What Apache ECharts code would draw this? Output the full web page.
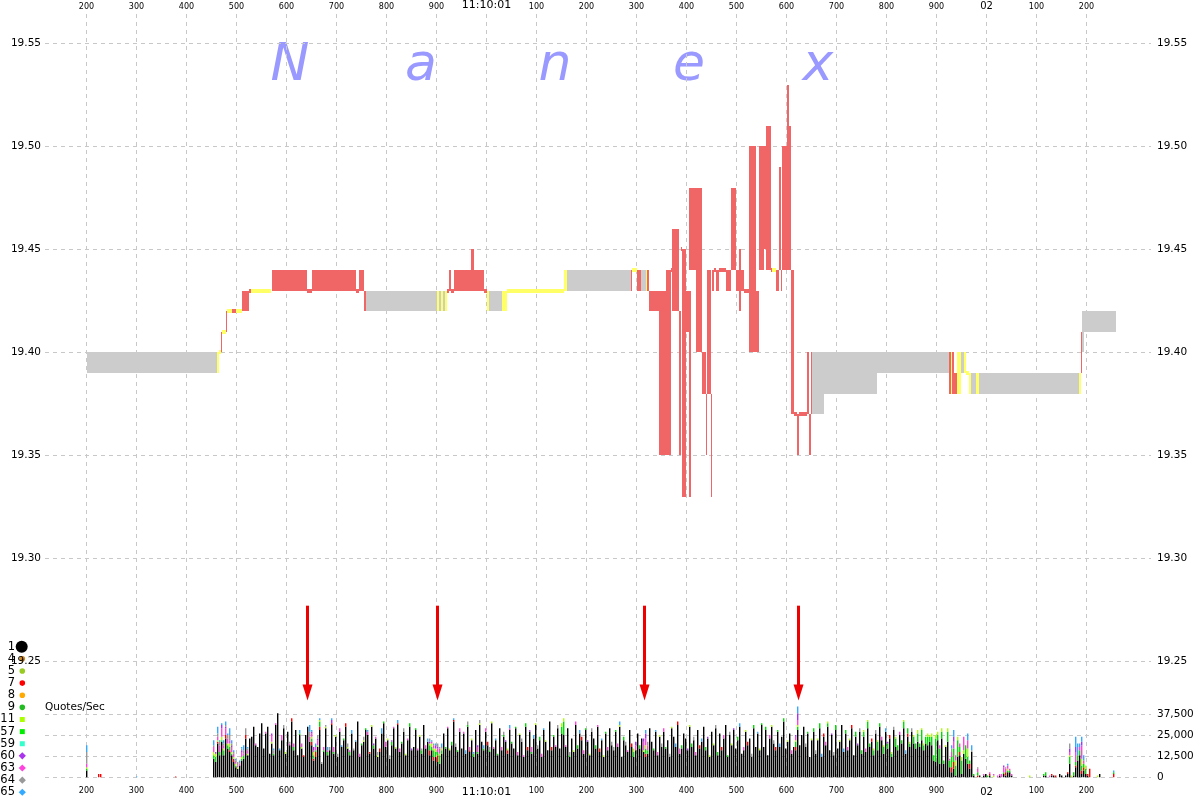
<!DOCTYPE html>
<html><head><meta charset="utf-8">
<script src="https://cdn.jsdelivr.net/npm/echarts/dist/echarts.min.js"></script>
<style>html,body{margin:0;padding:0;background:#fff}#c{width:1200px;height:800px}</style>
</head><body><div id="c"></div>
<script>
// ---- time axis (ms after 11:10:00) ----
const timeMin = 200, timeMax = 2200, timeStep = 100;
const dataXMin = 117, dataXMax = 2329;
const tickText = {1000: '11:10:01', 2000: '02'};

// ---- price axis ----
const priceMin = 19.25, priceMax = 19.55, priceStep = 0.05;

// ---- NBBO spread segments [tStart, tEnd, low, high] ----
const graySpread = [
  [200,461,19.39,19.40],[758,920,19.42,19.43],[1005,1031,19.42,19.43],[1161,1289,19.43,19.44],
  [1309,1319,19.43,19.44],[1651,1675,19.37,19.40],[1675,1780,19.38,19.40],[1780,1926,19.39,19.40],
  [1948,1954,19.39,19.40],[1968,1978,19.38,19.39],[1984,2184,19.38,19.39],[2190,2194,19.40,19.41],
  [2190,2258,19.41,19.42]
];
const redSpread = [
  [469,471,19.40,19.41],[478,480,19.41,19.42],[490,499,19.42,19.42],[510,525,19.42,19.43],
  [525,529,19.43,19.43],[571,641,19.43,19.44],[641,651,19.43,19.43],[651,738,19.43,19.44],
  [738,745,19.43,19.43],[745,754,19.43,19.44],[754,758,19.42,19.43],[920,925,19.43,19.43],
  [925,929,19.43,19.44],[929,935,19.43,19.43],[935,995,19.43,19.44],[969,975,19.44,19.45],
  [995,1000,19.43,19.43],[1289,1291,19.43,19.44],[1300,1309,19.43,19.44],[1321,1325,19.43,19.44],
  [1325,1345,19.42,19.43],[1345,1359,19.35,19.43],[1359,1369,19.35,19.44],[1369,1371,19.44,19.44],
  [1371,1385,19.42,19.46],[1385,1389,19.35,19.42],[1389,1391,19.45,19.45],[1391,1399,19.33,19.45],
  [1399,1409,19.41,19.43],[1405,1409,19.33,19.41],[1405,1431,19.44,19.48],[1419,1431,19.40,19.44],
  [1431,1439,19.38,19.40],[1439,1441,19.35,19.38],[1441,1449,19.38,19.44],[1449,1451,19.33,19.38],
  [1451,1455,19.43,19.44],[1455,1459,19.44,19.44],[1459,1465,19.43,19.44],[1465,1479,19.44,19.44],
  [1479,1489,19.43,19.44],[1489,1499,19.44,19.48],[1499,1505,19.43,19.44],[1505,1509,19.42,19.45],
  [1509,1515,19.43,19.44],[1515,1525,19.43,19.43],[1525,1539,19.40,19.50],[1539,1545,19.40,19.43],
  [1545,1555,19.44,19.50],[1555,1561,19.45,19.50],[1559,1569,19.44,19.51],[1569,1571,19.44,19.44],
  [1579,1585,19.43,19.44],[1585,1589,19.44,19.49],[1589,1591,19.43,19.44],[1591,1601,19.44,19.50],
  [1601,1605,19.44,19.53],[1601,1609,19.44,19.51],[1609,1615,19.37,19.44],[1615,1621,19.37,19.37],
  [1621,1625,19.35,19.37],[1625,1641,19.37,19.37],[1641,1645,19.37,19.40],[1645,1649,19.35,19.37],
  [1649,1651,19.37,19.40],[1925,1928,19.38,19.40],[1930,1934,19.38,19.40],[1934,1940,19.38,19.39],
  [2188,2190,19.39,19.41]
];
const yellowSpread = [
  [461,465,19.39,19.40],[465,469,19.40,19.40],[471,478,19.41,19.41],[480,490,19.42,19.42],
  [499,510,19.42,19.42],[529,569,19.43,19.43],[900,904,19.42,19.43],[908,912,19.42,19.43],
  [917,920,19.42,19.43],[1000,1005,19.42,19.43],[1031,1041,19.42,19.43],[1041,1155,19.43,19.43],
  [1155,1161,19.43,19.44],[1291,1300,19.44,19.44],[1319,1321,19.43,19.44],[1571,1579,19.44,19.44],
  [1928,1930,19.38,19.40],[1940,1948,19.38,19.40],[1954,1958,19.39,19.40],[1958,1964,19.39,19.39],
  [1964,1968,19.38,19.39],[1978,1984,19.38,19.39],[2184,2188,19.38,19.39]
];

// ---- Quotes/Sec, thousands per 4 ms bin starting at volStart ----
const volStart = 454, volStep = 4;
const volMax = 37500, volTick = 12500;
const q1 = [
11,9,20,13,21,13,23,17,15,13,9,6,5,7,10,11,23,13,23,24,30,19,18,26,32,
17,26,30,14,20,13,31,38,16,22,29,14,27,19,33,16,28,13,25,17,12,25,30,21,19,
10,12,18,28,8,15,29,13,16,31,14,24,12,27,18,22,30,17,13,26,16,21,33,12,19,
21,28,25,14,30,17,23,12,15,26,32,18,22,11,19,29,17,31,15,20,27,13,22,30,16,
18,28,16,24,14,31,17,21,13,16,10,12,9,8,14,26,17,29,16,19,33,18,15,27,17,
26,14,30,15,22,12,28,14,31,21,16,27,19,15,32,17,22,13,29,16,24,21,14,28,20,
17,29,13,25,21,12,30,16,27,14,23,31,17,22,12,28,21,16,33,16,24,18,29,17,26,
25,18,29,12,23,15,31,17,26,22,14,28,21,13,27,23,17,30,15,22,12,26,16,29,19,
16,27,18,30,12,22,19,15,28,18,12,16,26,17,23,15,12,14,29,21,16,27,13,24,18,
27,17,22,12,29,24,18,31,14,17,26,23,16,30,18,22,13,28,17,21,30,16,23,12,27,
19,29,13,26,16,23,31,12,25,19,28,17,22,30,14,16,27,19,23,12,29,18,26,16,31,
18,28,13,23,30,20,16,27,18,24,33,17,21,26,14,18,16,28,19,25,30,18,26,12,22,
27,14,22,29,12,24,19,30,16,25,13,28,17,21,31,15,26,16,22,29,13,24,19,27,14,
24,15,29,18,21,13,26,16,30,22,14,27,17,23,12,28,18,16,25,20,29,14,24,18,27,
20,17,21,18,22,16,20,19,21,19,10,9,22,8,23,8,18,21,6,3,5,1,12,13,2,
14,11,8,5,15,1,0,0,1,0,1,2,0,1,0,0,0,0,1,0,2,1,3,3,1,
0,0,0,0,0,0,0,0,0,0,0,0,0,0,0,1,1,0,0,1,1,0,0,2,1,
0,1,2,8,0,1,6,10,13,2,4,2,1,0,0,0,0,0,2,0,0,0,0,0,0];
const q7 = [
0,0,1,0,0,0,2,0,1,0,2,0,0,0,0,0,2,0,0,0,0,0,0,0,0,
0,0,0,0,0,0,0,0,0,0,0,0,0,0,2,0,0,0,0,0,1,0,0,0,2,
1,3,0,2,0,0,0,0,0,1,0,0,0,0,0,0,2,0,0,0,0,0,0,0,0,
0,0,0,1,0,0,0,0,2,0,0,0,0,0,0,0,0,1,0,0,0,0,0,0,0,
0,0,0,0,0,0,0,0,3,0,2,0,4,0,0,0,0,0,0,0,1,0,0,0,0,
0,0,0,1,0,0,0,0,0,0,0,0,2,0,0,0,0,0,0,0,0,0,2,0,0,
0,0,0,0,0,0,0,2,0,0,0,0,0,0,0,0,0,0,0,2,0,0,0,0,0,
0,0,0,0,0,0,0,0,0,2,0,0,0,0,0,0,0,0,2,0,0,0,0,0,0,
0,0,0,0,0,0,0,0,0,2,0,0,0,0,0,0,2,0,0,0,0,0,0,0,0,
0,0,0,0,0,0,0,2,0,0,0,0,0,0,0,0,0,0,2,0,0,0,0,0,0,
0,0,0,0,2,0,0,0,0,0,0,0,0,0,0,0,0,2,0,0,0,0,0,0,0,
0,0,0,0,0,0,2,0,0,0,0,0,0,0,0,0,2,0,0,0,0,0,0,0,0,
0,0,0,0,0,2,0,0,0,0,0,0,0,0,0,0,0,0,0,2,0,0,0,0,0,
0,0,0,0,2,0,0,0,0,0,0,0,0,2,0,0,0,0,0,0,0,0,2,0,0,
0,0,0,0,0,0,0,0,0,0,0,0,0,0,0,0,0,0,0,3,4,0,0,2,0,
0,0,0,3,0,0,0,1,0,0,0,0,0,1,0,0,0,0,0,0,0,2,0,0,0,
0,0,0,0,0,0,0,0,0,0,0,0,0,0,0,0,0,0,0,1,0,1,0,0,0,
0,0,1,0,0,0,1,0,0,2,2,0,1,5,0,0,0,0,0,0,0,0,0,0,0];
const q57 = [
2,3,0,2,1,3,0,2,2,1,0,1,0,0,1,2,0,0,0,0,0,0,0,0,0,
0,0,0,0,0,1,0,0,0,0,0,0,0,0,0,2,0,0,1,0,0,0,0,0,2,
2,1,0,3,0,1,0,2,0,0,1,0,0,0,0,1,0,0,2,0,0,0,0,0,1,
0,1,0,0,0,2,0,0,0,0,1,0,0,0,2,0,0,0,0,1,0,0,0,2,0,
0,1,0,0,2,0,0,0,3,2,4,3,2,5,2,0,1,0,0,2,0,0,1,0,0,
0,0,1,0,0,2,0,1,0,0,1,0,0,1,0,0,0,1,0,0,1,0,0,0,1,
0,1,0,0,0,0,2,0,0,1,0,0,0,2,0,0,0,0,0,0,1,0,0,0,4,
8,0,0,1,0,0,0,2,0,0,0,1,0,0,0,0,2,0,0,0,0,1,0,0,0,
0,1,0,0,0,2,0,0,0,0,3,0,0,2,0,0,3,2,0,0,1,0,0,0,0,
0,1,0,0,0,0,0,0,0,2,0,0,0,0,2,0,0,0,0,0,0,2,0,0,0,
0,0,2,0,0,0,0,1,0,0,0,0,2,0,0,0,0,0,0,0,2,0,0,0,1,
0,2,0,0,0,0,0,1,0,0,2,0,0,0,0,0,3,2,0,0,0,0,1,0,0,
2,0,0,3,0,0,0,2,0,0,0,3,0,0,0,0,2,0,0,0,0,3,0,0,2,
3,0,4,2,0,3,0,5,2,0,4,0,3,0,2,0,5,3,0,2,4,0,3,2,0,
4,3,5,2,6,3,4,5,3,5,3,14,3,9,4,2,0,6,4,6,8,6,10,3,8,
0,8,4,2,0,1,0,2,0,0,0,0,1,0,0,0,0,0,0,0,1,0,1,1,0,
0,0,0,0,0,0,0,0,0,0,0,0,0,0,0,1,2,0,0,0,0,0,0,0,0,
0,0,0,4,0,2,2,3,3,3,2,3,0,0,0,0,0,0,0,0,0,0,0,0,0];
const q11 = [
2,2,1,0,2,1,0,1,2,1,1,1,1,0,1,0,0,1,0,0,0,0,0,0,0,
0,0,0,0,1,0,0,0,0,0,0,1,0,0,0,0,0,0,0,1,0,0,0,0,1,
2,0,1,1,0,0,1,0,0,0,0,1,0,0,0,0,0,1,0,0,0,0,0,0,0,
1,0,0,0,1,0,0,1,0,0,0,0,1,0,0,0,1,0,0,0,0,1,0,0,0,
0,0,0,1,0,0,0,0,1,2,1,2,0,1,1,0,0,0,1,0,0,0,0,0,0,
0,0,0,0,1,0,0,0,1,0,0,0,0,0,1,0,0,0,0,0,0,0,1,0,0,
0,0,0,1,0,0,0,0,0,0,0,1,0,0,0,0,1,0,0,0,0,0,0,0,2,
2,0,0,0,0,1,0,0,0,0,0,0,0,1,0,0,0,0,0,0,1,0,0,0,0,
0,0,0,1,0,0,0,0,0,0,2,0,0,0,0,1,2,0,0,0,0,0,0,1,0,
0,0,0,0,1,0,0,0,0,0,0,0,0,1,0,0,0,0,0,0,0,0,0,1,0,
1,0,0,0,0,0,0,0,0,1,0,0,0,0,0,0,1,0,0,0,0,0,0,1,0,
0,0,0,0,1,0,0,0,0,0,0,0,1,0,0,0,1,1,0,0,0,0,0,0,1,
0,0,1,0,0,0,0,1,0,0,0,0,0,1,0,0,0,0,1,0,0,0,0,0,0,
1,0,1,0,0,1,0,1,0,0,1,0,0,0,1,0,1,0,0,0,1,0,0,1,0,
1,0,2,0,1,1,0,2,1,2,0,2,2,0,2,0,1,2,0,0,0,3,2,0,2,
2,0,5,0,0,0,0,0,0,0,0,0,0,0,0,1,0,0,0,0,0,0,1,0,0,
0,0,0,0,0,0,0,0,1,0,0,0,0,0,0,0,0,0,0,0,0,0,0,0,0,
0,0,0,1,1,0,0,0,0,4,0,2,0,0,0,0,0,1,0,0,0,0,0,0,0];
const q63 = [
3,0,2,4,5,2,4,3,2,3,2,1,1,1,3,1,0,2,0,0,0,1,0,0,0,
0,1,0,0,4,0,1,0,0,3,0,0,0,1,0,2,0,0,0,2,0,0,0,3,2,
1,2,3,0,0,2,0,1,0,0,3,0,0,2,0,0,0,0,1,0,0,0,0,2,0,
0,0,2,0,0,0,1,0,0,0,0,3,0,0,0,1,0,0,2,0,0,0,1,0,0,
0,0,1,0,0,0,2,0,0,1,2,0,2,3,0,0,0,1,0,0,0,0,0,2,0,
1,0,0,2,0,0,0,3,0,0,0,2,0,0,0,1,0,0,0,2,0,0,0,1,0,
0,0,2,0,0,1,0,0,0,3,0,0,0,0,2,0,0,0,0,0,0,1,0,0,0,
0,1,0,0,0,0,2,0,0,0,2,0,0,0,0,0,0,1,0,0,0,0,2,0,0,
0,0,2,0,0,0,0,1,0,0,0,3,0,0,0,5,4,3,0,0,0,0,2,0,0,
2,0,0,0,0,0,0,0,3,0,0,0,0,0,0,0,2,0,0,0,0,0,0,0,0,
0,0,0,0,0,2,0,0,0,0,0,0,0,0,0,2,0,0,0,0,0,0,0,0,0,
0,0,0,2,0,0,0,0,0,0,0,0,0,0,2,0,2,3,0,0,0,0,0,0,0,
0,0,0,0,0,0,2,0,0,0,0,0,0,0,0,0,0,2,0,0,0,0,0,0,0,
0,2,0,0,0,0,0,0,0,2,0,0,0,0,0,0,0,0,2,0,0,0,0,0,0,
0,0,0,0,0,0,0,0,0,0,0,0,0,2,0,0,0,0,1,3,4,3,0,2,0,
8,0,5,0,0,0,0,2,0,0,1,0,0,1,0,1,0,1,1,2,3,2,2,1,1,
0,0,0,0,0,0,0,0,0,0,0,0,0,0,0,0,0,0,1,0,0,0,0,0,0,
0,0,0,2,0,0,6,0,2,8,2,0,0,0,0,0,0,0,0,0,0,0,0,0,0];
const q60 = [
0,1,0,0,2,0,1,0,0,1,0,0,0,0,1,0,0,0,0,0,0,0,0,0,0,
0,0,0,0,1,0,0,0,0,0,0,0,0,0,0,0,0,0,0,0,0,0,0,0,1,
2,0,1,0,0,0,0,0,0,2,0,0,0,0,0,0,0,0,0,0,0,0,0,0,0,
0,0,0,0,0,1,0,0,0,0,0,0,0,0,1,0,0,0,0,0,0,0,0,0,1,
0,0,0,0,0,0,0,0,1,0,0,2,1,0,0,0,0,0,0,0,0,0,0,0,0,
0,0,0,0,0,0,0,1,0,0,0,0,0,0,0,0,0,0,0,0,0,1,0,0,0,
0,0,0,0,0,0,0,0,1,0,0,0,0,0,0,0,0,0,0,0,0,0,0,0,0,
0,0,0,0,0,0,0,0,0,0,0,0,1,0,0,0,0,0,0,0,0,0,0,0,0,
0,0,0,0,0,0,0,0,0,0,0,2,0,0,0,2,3,0,0,0,0,0,0,0,0,
0,0,0,0,0,0,0,0,0,0,0,0,1,0,0,0,0,0,0,0,0,0,1,0,0,
0,0,0,0,0,0,0,0,0,0,1,0,0,0,0,0,0,0,0,0,0,0,0,0,0,
0,0,0,0,0,0,0,0,0,0,0,0,0,0,0,0,1,4,0,0,0,0,0,0,0,
0,0,0,0,0,0,0,0,0,1,0,0,0,0,0,0,0,0,0,0,0,0,1,0,0,
0,0,0,0,0,0,0,0,0,0,0,0,1,0,0,0,0,0,0,0,0,0,0,0,0,
0,0,0,0,0,0,0,0,0,0,0,0,0,0,0,0,0,0,0,0,3,0,0,0,0,
0,0,0,0,0,0,0,0,0,0,0,0,0,0,0,0,0,0,0,0,1,0,0,0,0,
0,0,0,0,0,0,0,0,0,0,0,0,0,0,0,0,0,0,0,0,0,0,0,0,0,
0,0,0,2,0,0,3,0,0,2,0,0,0,0,0,0,0,0,0,0,0,0,0,0,0];
const q64 = [
1,0,2,2,0,1,1,2,3,1,1,1,2,1,1,2,4,1,0,0,0,0,0,0,0,
0,0,0,0,0,2,0,0,0,0,2,0,0,1,0,0,0,0,0,0,0,0,0,3,0,
0,0,2,0,1,0,1,0,2,0,0,0,2,0,0,0,0,2,0,0,1,0,0,0,0,
2,0,0,0,0,0,0,2,0,0,0,0,0,2,0,0,0,0,0,0,2,0,0,0,0,
0,0,0,0,1,0,0,0,2,0,1,0,2,1,1,0,0,0,0,0,0,2,0,0,0,
0,0,2,0,0,0,0,0,2,0,0,0,0,2,0,0,0,0,0,0,2,0,0,0,0,
0,0,0,0,2,0,0,0,0,0,0,0,2,0,0,0,0,0,0,0,0,0,2,0,0,
0,0,0,2,0,0,0,0,0,0,0,0,0,0,2,0,0,0,0,0,0,0,0,0,2,
2,0,0,0,0,0,2,0,0,0,0,0,0,0,0,0,0,2,0,0,0,0,0,0,2,
0,0,0,2,0,0,0,0,0,0,0,0,0,0,0,2,0,0,0,0,0,0,0,0,0,
0,2,0,0,0,0,0,0,2,0,0,0,0,0,0,0,0,0,0,2,0,0,0,0,0,
0,0,0,0,0,2,0,0,0,0,0,0,0,0,0,0,0,0,0,0,0,2,0,0,0,
0,2,0,0,0,0,0,0,0,0,2,0,0,0,0,0,0,0,0,0,0,0,0,2,0,
0,0,0,0,0,0,2,0,0,0,0,0,0,0,0,2,0,0,0,0,0,0,0,0,2,
0,0,0,0,0,0,0,0,0,0,0,0,0,0,0,0,0,0,0,2,0,0,0,0,0,
0,0,0,0,1,0,0,1,0,0,0,0,0,0,0,0,0,0,0,0,0,1,0,0,0,
0,0,0,0,0,0,0,0,0,0,0,0,0,0,0,0,0,0,0,0,0,0,0,0,0,
0,0,0,3,0,0,0,0,0,0,0,0,0,0,0,0,0,0,0,0,0,0,0,0,0];
const q65 = [
3,0,4,1,1,2,2,1,4,2,1,1,0,1,1,3,0,1,0,0,0,0,0,0,0,
0,0,0,0,0,1,0,0,1,0,0,0,0,0,0,0,0,0,2,0,0,0,0,4,1,
0,2,0,1,0,0,0,2,0,1,0,0,0,0,1,0,0,0,0,2,0,1,0,0,0,
0,0,1,0,0,0,0,0,0,3,0,0,0,0,0,0,0,2,0,0,0,0,0,0,0,
0,0,0,0,0,0,0,2,0,1,0,1,0,0,2,0,0,0,0,0,1,0,0,0,0,
0,2,0,0,0,1,0,0,0,0,2,0,0,0,0,0,1,0,0,0,0,0,0,2,0,
0,0,0,0,0,0,0,0,0,0,2,0,0,0,0,1,0,0,0,0,0,0,0,0,0,
0,0,0,0,0,0,0,0,2,0,0,0,0,0,0,0,0,0,0,1,0,0,0,0,0,
0,0,0,2,0,0,0,0,0,0,0,0,0,0,0,0,2,0,0,0,0,1,0,0,0,
0,0,0,0,0,0,2,0,0,0,0,0,0,0,0,0,0,0,0,2,0,0,0,0,0,
0,0,0,0,0,0,0,0,0,0,0,0,0,2,0,0,0,0,0,0,0,0,1,0,0,
0,0,0,0,0,0,0,0,2,0,0,0,0,0,0,0,0,4,0,0,0,0,0,0,0,
0,0,0,0,2,0,0,0,0,0,0,0,0,0,0,2,0,0,0,0,0,0,0,0,0,
0,0,0,0,0,0,0,0,0,0,0,2,0,0,0,0,0,0,0,0,0,2,0,0,0,
0,0,0,0,0,0,0,0,0,0,0,0,0,0,0,0,0,0,0,2,4,0,0,0,0,
0,0,4,0,3,0,0,0,0,0,0,0,0,0,0,0,0,0,0,0,0,0,1,0,0,
0,0,0,0,0,0,0,0,0,0,0,0,0,0,0,0,0,0,0,0,0,0,0,0,0,
0,0,0,0,0,0,6,7,2,3,3,0,0,0,0,0,0,0,0,0,0,0,0,0,0];
// isolated bars outside the bin run
const extraT   = [200, 224, 228, 300, 378, 2254];
const extra1   = [4, 0, 0, 0, 0, 0];
const extra7   = [0, 2, 2, 0, 0.5, 2];
const extra57  = [1, 0, 0, 0, 0, 1];
const extra11  = [1, 0, 0, 0, 0, 0];
const extra63  = [2, 0, 0, 0, 0, 0];
const extra60  = [0, 0, 0, 0, 0, 0];
const extra64  = [7, 0, 0, 0, 0, 0];
const extra65  = [4, 0, 0, 0.5, 0, 1];

// ---- annotation arrows ----
const arrowTimes = [641, 901, 1315, 1623];
const arrowTop = 19.277, arrowBottom = 19.231;

// ---- legend ----
const legendIds = ['1','4','5','7','8','9','11','57','59','60','63','64','65'];
const legendColors = ['#000000','#cc8822','#99cc22','#ff0000','#ffaa00','#22bb22','#aaff00','#00ee00','#33ffcc','#aa33ee','#ff44dd','#999999','#33aaff'];
const legendShapes = ['big','circle','circle','circle','circle','circle','square','square','square','diamond','diamond','diamond','diamond'];

const watermark = ['N','a','n','e','x'];
const FONT = '"DejaVu Sans"';

// ---------- build ----------
const volColors = ['#000000','#ff0000','#00dd00','#aaff00','#ff44dd','#aa33ee','#999999','#33aaff'];
const volSeriesArrays = [q1,q7,q57,q11,q63,q60,q64,q65];
const extraArrays = [extra1,extra7,extra57,extra11,extra63,extra60,extra64,extra65];
const volRows = [];
for (let i = 0; i < q1.length; i++) {
  const row = [volStart + i*volStep];
  volSeriesArrays.forEach(a => row.push((a[i] || 0) * 1000));
  volRows.push(row);
}
extraT.forEach((t, i) => {
  const row = [t];
  extraArrays.forEach(a => row.push((a[i] || 0) * 1000));
  volRows.push(row);
});

function spreadSeries(data, color, z) {
  return {
    type: 'custom', xAxisIndex: 0, yAxisIndex: 0, z: z, silent: true, animation: false,
    data: data,
    renderItem: function (params, api) {
      const t0 = api.value(0), t1 = api.value(1), lo = api.value(2), hi = api.value(3);
      const a = api.coord([t0, hi]), b = api.coord([t1, lo]);
      const x0 = Math.round(a[0]), x1 = Math.max(Math.round(b[0]), x0 + 1);
      let y0 = Math.round(a[1]), y1 = Math.round(b[1]);
      if (y1 - y0 < 4) { const c = (a[1] + b[1]) / 2; y0 = Math.round(c - 2); y1 = y0 + 4; }
      return { type: 'rect', shape: { x: x0, y: y0, width: x1 - x0, height: y1 - y0 }, style: { fill: color } };
    }
  };
}

const dash = { color: '#c8c8c8', type: [4, 4], width: 1 };
const labelFmt = v => {
  if (v === 1000) return '{t|' + tickText[v] + '}';
  if (tickText[v]) return '{s|' + tickText[v] + '}';
  return String(v % 1000);
};
const richStyles = { t: { fontSize: 11, fontFamily: FONT, color: '#000' }, s: { fontSize: 10, fontFamily: FONT, color: '#000' } };

const graphics = [];
watermark.forEach((ch, i) => {
  graphics.push({ type: 'text', x: [290, 421, 555, 689, 818][i], y: 66, z: 0, silent: true,
    style: { text: ch, font: 'italic 52px ' + FONT, fill: '#9999ff', align: 'center', verticalAlign: 'middle' } });
});
legendIds.forEach((id, i) => {
  const y = 646.7 + i * 12.13;
  graphics.push({ type: 'text', x: 15, y: y, style: { text: id, font: '11.5px ' + FONT, fill: '#000', align: 'right', verticalAlign: 'middle' } });
  const c = legendColors[i], s = legendShapes[i];
  if (s === 'big') graphics.push({ type: 'circle', shape: { cx: 21.7, cy: y, r: 6 }, style: { fill: c } });
  else if (s === 'circle') graphics.push({ type: 'circle', shape: { cx: 22.3, cy: y, r: 2.8 }, style: { fill: c } });
  else if (s === 'square') graphics.push({ type: 'rect', shape: { x: 19.8, y: y - 2.5, width: 5, height: 5 }, style: { fill: c } });
  else graphics.push({ type: 'polygon', shape: { points: [[22.3, y - 3.6], [25.9, y], [22.3, y + 3.6], [18.7, y]] }, style: { fill: c } });
});
graphics.push({ type: 'text', x: 45, y: 707, style: { text: 'Quotes/Sec', font: '10.5px ' + FONT, fill: '#000', align: 'left', verticalAlign: 'middle' } });

const chart = echarts.init(document.getElementById('c'), null, { renderer: 'canvas' });
chart.setOption({
  animation: false,
  backgroundColor: '#ffffff',
  grid: [
    { left: 45, right: 49, top: 43.3, height: 618 },
    { left: 45, right: 49, top: 714, height: 63.3 },
    { left: 86.5, right: 113.5, top: 13, bottom: 18 }
  ],
  xAxis: [
    { type: 'value', gridIndex: 0, min: dataXMin, max: dataXMax, show: false },
    { type: 'value', gridIndex: 1, min: dataXMin, max: dataXMax, show: false },
    { type: 'value', gridIndex: 2, min: timeMin, max: timeMax, interval: timeStep, position: 'top',
      axisLine: { show: false }, axisTick: { show: false },
      splitLine: { show: true, lineStyle: dash },
      axisLabel: { formatter: labelFmt, fontSize: 8, fontFamily: FONT, color: '#000', margin: 3, rich: richStyles } },
    { type: 'value', gridIndex: 2, min: timeMin, max: timeMax, interval: timeStep, position: 'bottom',
      axisLine: { show: false }, axisTick: { show: false }, splitLine: { show: false },
      axisLabel: { formatter: labelFmt, fontSize: 8, fontFamily: FONT, color: '#000', margin: 5, rich: richStyles } }
  ],
  yAxis: [
    { type: 'value', gridIndex: 0, position: 'left', min: priceMin, max: priceMax, interval: priceStep,
      axisLine: { show: false }, axisTick: { show: false },
      splitLine: { show: true, lineStyle: dash },
      axisLabel: { formatter: v => v.toFixed(2), fontSize: 10.5, fontFamily: FONT, color: '#000', margin: 4 } },
    { type: 'value', gridIndex: 0, position: 'right', min: priceMin, max: priceMax, interval: priceStep,
      axisLine: { show: false }, axisTick: { show: false }, splitLine: { show: false },
      axisLabel: { formatter: v => v.toFixed(2), fontSize: 10.5, fontFamily: FONT, color: '#000', margin: 6 } },
    { type: 'value', gridIndex: 1, position: 'right', min: 0, max: volMax, interval: volTick,
      axisLine: { show: false }, axisTick: { show: false },
      splitLine: { show: true, lineStyle: dash },
      axisLabel: { formatter: v => v.toLocaleString('en-US'), fontSize: 10.5, fontFamily: FONT, color: '#000', margin: 6 } },
    { type: 'value', gridIndex: 2, min: 0, max: 1, show: false }
  ],
  graphic: graphics,
  series: [
    spreadSeries(graySpread, '#cccccc', 3),
    spreadSeries(redSpread, '#f06666', 4),
    spreadSeries(yellowSpread, '#ffff66', 5),
    {
      type: 'custom', xAxisIndex: 1, yAxisIndex: 2, z: 3, silent: true, clip: false,
      data: volRows,
      renderItem: function (params, api) {
        const t = api.value(0);
        const children = [];
        let acc = 0;
        for (let k = 0; k < volColors.length; k++) {
          const v = api.value(k + 1);
          if (!v) continue;
          const p0 = api.coord([t, acc]); acc += v; const p1 = api.coord([t, acc]);
          children.push({ type: 'rect', shape: { x: Math.floor(p0[0]), y: p1[1], width: 1.4, height: p0[1] - p1[1] }, style: { fill: volColors[k] } });
        }
        return { type: 'group', children: children };
      }
    },
    {
      type: 'custom', xAxisIndex: 0, yAxisIndex: 0, z: 10, silent: true, clip: false,
      data: arrowTimes.map(t => [t, arrowTop, arrowBottom]),
      renderItem: function (params, api) {
        const t = api.value(0);
        const a = api.coord([t, api.value(1)]), b = api.coord([t, api.value(2)]);
        const x = Math.round(a[0]) + 0.5;
        return { type: 'group', children: [
          { type: 'line', shape: { x1: x, y1: a[1], x2: x, y2: b[1] - 12 }, style: { stroke: '#ee0000', lineWidth: 3 } },
          { type: 'polygon', shape: { points: [[x - 5, b[1] - 16], [x + 5, b[1] - 16], [x, b[1]]] }, style: { fill: '#ee0000' } }
        ] };
      }
    },
    { type: 'line', xAxisIndex: 2, yAxisIndex: 3, data: [], silent: true }
  ]
});
</script></body></html>
